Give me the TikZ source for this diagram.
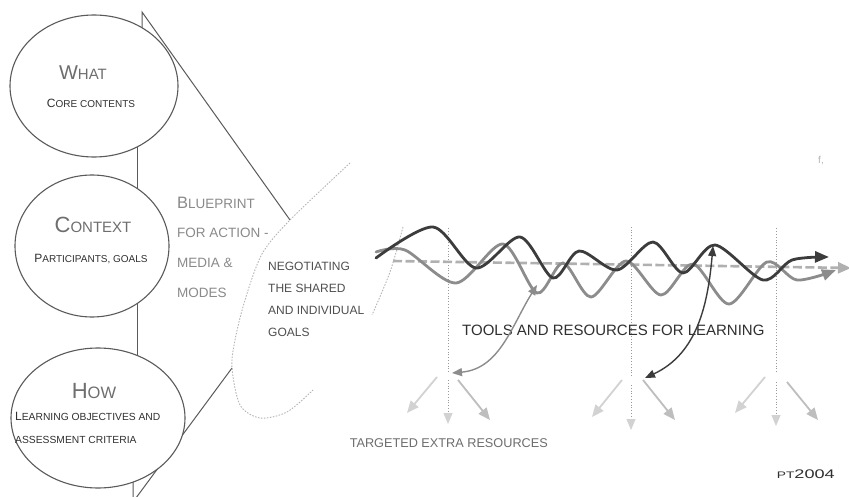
\documentclass[tikz,border=0pt]{standalone}
\usepackage{fontspec}
\setmainfont{Liberation Sans}
\usetikzlibrary{arrows.meta,shapes.geometric,backgrounds}
\definecolor{ovalline}{HTML}{5A5A5A}
\definecolor{headgrey}{HTML}{6E6E6E}
\definecolor{subgrey}{HTML}{303030}
\definecolor{plangrey}{HTML}{8A8A8A}
\definecolor{rimgrey}{HTML}{B4B4B4}
\definecolor{sepgrey}{HTML}{9A9A9A}
\definecolor{wavedark}{HTML}{3C3C3C}
\definecolor{wavegrey}{HTML}{8C8C8C}
\definecolor{midgrey}{HTML}{B0B0B0}
\definecolor{fanpale}{HTML}{D2D2D2}
\definecolor{fangrey}{HTML}{BEBEBE}
\newcommand{\capfirst}[4]{{\fontsize{#1}{#1}\selectfont #3}{\fontsize{#2}{#2}\selectfont #4}}
\tikzset{
  >=Stealth,
  oval/.style={ellipse,draw=ovalline,line width=1.1pt,fill=white,inner sep=0pt},
  head/.style={inner sep=0pt,text=headgrey},
  sub/.style={inner sep=0pt,text=subgrey},
  plan/.style={inner sep=0pt,anchor=base west,text=plangrey,font=\fontsize{13.5}{14}\selectfont},
  nego/.style={inner sep=0pt,anchor=base west,text=subgrey!85,font=\fontsize{12}{12}\selectfont},
  cone/.style={draw=ovalline,line width=1pt},
  rim/.style={draw=rimgrey,line width=0.9pt,dash pattern=on 1.5pt off 1.5pt},
  sepline/.style={draw=sepgrey,line width=0.8pt,dotted},
  drop/.style={sepline,-{Triangle[length=11pt,width=9pt,color=fanpale]}},
  fanl/.style={draw=fanpale,line width=1.8pt,-{Triangle[length=12pt,width=10pt]}},
  fanr/.style={draw=fangrey,line width=1.8pt,-{Triangle[length=12pt,width=10pt]}},
  wave/.style={line width=2.8pt,line cap=round,-{Triangle[length=14pt,width=11pt]}},
  midline/.style={draw=midgrey,line width=2.6pt,dash pattern=on 9pt off 3.5pt,
                  -{Triangle[length=13pt,width=11pt]}},
  link/.style={line width=1.4pt,{Triangle[length=10pt,width=8pt]}-{Triangle[length=10pt,width=8pt]}},
}

\begin{document}
\begin{tikzpicture}[x=1pt,y=-1pt]
  \useasboundingbox (0,0) rectangle (849,497);

  % what / context / how
  \node[oval,minimum width=168pt,minimum height=142pt] (what) at (94,86) {};
  \node[oval,minimum width=154pt,minimum height=142pt] (context) at (92,246) {};
  \node[oval,minimum width=174pt,minimum height=140pt] (how) at (98,418) {};

  \node[head,anchor=base] (whathead) at (83,80) {\capfirst{20}{15}{W}{HAT}};
  \node[sub,anchor=base] (whatsub) at (91,108) {\capfirst{12}{10}{C}{ORE CONTENTS}};
  \node[head,anchor=base] (contexthead) at (93,233) {\capfirst{22}{15}{C}{ONTEXT}};
  \node[sub,anchor=base] (contextsub) at (91,263) {\capfirst{12}{10}{P}{ARTICIPANTS, GOALS}};
  \node[head,anchor=base] (howhead) at (94,398) {\capfirst{22}{16.5}{H}{OW}};
  \node[sub,anchor=base west] (howsub) at (15,420) {\capfirst{12}{10.3}{L}{EARNING OBJECTIVES AND}};
  \node[sub,anchor=base west] (howsubb) at (15,443) {\capfirst{10.3}{10.3}{}{ASSESSMENT CRITERIA}};

  % cone towards the learning path
  \coordinate (apextop) at (142,12);
  \coordinate (apexbot) at (133,502);
  \coordinate (rimtop) at (290,220);
  \coordinate (rimbot) at (232,368);
  \coordinate (spine) at (137,0);
  \begin{scope}[on background layer]
    \fill[white] (0,0) rectangle (849,497);
    \draw[cone] (rimtop) -- (apextop) -- (apextop |- what.center);
    \draw[cone] (rimbot) -- (apexbot) -- (apexbot |- how.center);
    \draw[cone] (spine |- what.center) -- (spine |- how.center);
  \end{scope}
  \draw[rim] plot[smooth] coordinates {(350,163) (rimtop) (262,254) (245,300) (235,340)
    (rimbot) (240,405) (260,418) (287,412) (313,390)};
  \draw[rim] plot[smooth] coordinates {(403,227) (390,272) (372,315)};

  \node[plan] (plan1) at (177,209) {\capfirst{16.5}{13.5}{B}{LUEPRINT}};
  \node[plan] (plan2) at (177,238) {FOR ACTION -};
  \node[plan] (plan3) at (177,268) {MEDIA \&};
  \node[plan] (plan4) at (177,298) {MODES};

  \node[nego] (nego1) at (268,270) {NEGOTIATING};
  \node[nego] (nego2) at (268,292) {THE SHARED};
  \node[nego] (nego3) at (268,314) {AND INDIVIDUAL};
  \node[nego] (nego4) at (268,336) {GOALS};

  % sections and extra resources
  \coordinate (hub1) at (448,372);
  \coordinate (hub2) at (631,376);
  \coordinate (hub3) at (776,372);
  \draw[sepline] (hub1) -- ++(0,-145);
  \draw[sepline] (hub2) -- ++(0,-149);
  \draw[sepline] (hub3) -- ++(0,-145);
  \draw[drop] (hub1) ++(0,8) -- ++(0,44);
  \draw[drop] (hub2) ++(0,9) -- ++(0,45);
  \draw[drop] (hub3) ++(0,10) -- ++(0,44);
  \draw[fanl] (hub1) ++(-11,5) -- ++(-30,36);
  \draw[fanr] (hub1) ++(10,8) -- ++(32,40);
  \draw[fanl] (hub2) ++(-9,4) -- ++(-30,37);
  \draw[fanr] (hub2) ++(12,4) -- ++(32,40);
  \draw[fanl] (hub3) ++(-11,5) -- ++(-30,36);
  \draw[fanr] (hub3) ++(11,10) -- ++(31,38);

  % learning path
  \draw[midline] (393,261) -- (851,268);
  \draw[wave,draw=wavegrey] plot[smooth] coordinates {(376,252) (405,250) (456,283) (503,244)
    (537,293) (563,263) (591,297) (626,261) (661,295) (693,264) (729,304) (767,262)
    (797,280) (836,270)};
  \draw[wave,draw=wavedark] plot[smooth] coordinates {(376,258) (433,227) (476,268) (520,237)
    (553,278) (579,251) (617,270) (653,242) (683,273) (715,245) (763,280) (792,260)
    (829,257)};

  \node[inner sep=0pt,anchor=base west,text=subgrey,font=\fontsize{15}{15}\selectfont]
    (tools) at (462,335) {TOOLS AND RESOURCES FOR LEARNING};

  \coordinate (land1) at (452,373);
  \coordinate (dip) at (537,285);
  \coordinate (land2) at (645,378);
  \coordinate (crest) at (713,246);
  \draw[link,draw=wavegrey] (land1) to[out=5,in=238] (dip);
  \draw[link,draw=wavedark] (land2) to[out=25,in=265] (crest);

  \node[inner sep=0pt,anchor=base east,text=headgrey,font=\fontsize{12.7}{12.7}\selectfont]
    (extra) at (548,447) {TARGETED EXTRA RESOURCES};
  \node[inner sep=0pt,anchor=base east,text=subgrey] (sign) at (835,478)
    {\scalebox{1.45}[1]{\capfirst{9.5}{12.5}{PT}{2004}}};
  \node[inner sep=0pt,text=rimgrey,font=\fontsize{10}{10}\selectfont] (mark) at (821,161) {f,};
\end{tikzpicture}
\end{document}
